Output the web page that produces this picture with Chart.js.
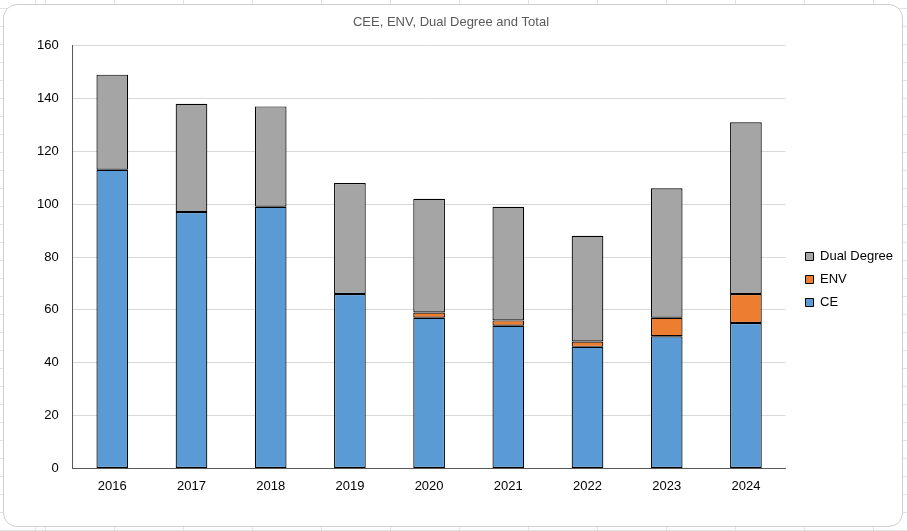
<!DOCTYPE html>
<html>
<head>
<meta charset="utf-8">
<script src="https://cdn.jsdelivr.net/npm/chart.js@4"></script>
<style>
  html, body { margin: 0; padding: 0; }
  body {
    width: 907px; height: 531px; overflow: hidden; position: relative;
    background-color: #fff;
    background-image:
      repeating-linear-gradient(to right, #e2e2e2 0 1px, transparent 1px 69px),
      repeating-linear-gradient(to bottom, #e2e2e2 0 1px, transparent 1px 18px);
    background-position: 45px 0, 0 8px;
  }
  #box {
    position: absolute; left: 3px; top: 4px; width: 898px; height: 521px;
    background: #fff; border: 1px solid #cfcfcf; border-radius: 14px;
  }
  canvas { display: block; }
</style>
</head>
<body>
<div id="box"><canvas id="barChart" width="898" height="521"></canvas></div>
<script>
// values
const years = ['2016','2017','2018','2019','2020','2021','2022','2023','2024'];
const ce = [113, 97, 99, 66, 57, 54, 46, 50, 55];
const env = [0, 0, 0, 0, 2, 2, 2, 7, 11];
const dual = [36, 41, 38, 42, 43, 43, 40, 49, 65];
const yTicks = [0, 20, 40, 60, 80, 100, 120, 140, 160];

Chart.defaults.font = { family: '"Liberation Sans", Arial, sans-serif', size: 13 };
Chart.defaults.color = '#000';

// nudge legend and title to where the spreadsheet puts them
function shiftBox(box, dx, dy) {
  if (!box || box._shifted) return;
  const orig = box.draw;
  box.draw = function (area) {
    const c = this.ctx;
    c.save(); c.translate(dx, dy); orig.call(this, area); c.restore();
  };
  box._shifted = true;
}
const boxShift = {
  id: 'boxShift',
  afterLayout(chart) {
    shiftBox(chart.legend, 10, 29);
    shiftBox(chart.titleBlock, -7, 0);
  }
};

const barCtx = document.getElementById('barChart');
new Chart(barCtx, {
  type: 'bar',
  data: {
    labels: years,
    datasets: [
      { label: 'CE', data: ce, backgroundColor: '#5b9bd5' },
      { label: 'ENV', data: env, backgroundColor: '#ed7d31' },
      { label: 'Dual Degree', data: dual, backgroundColor: '#a5a5a5' }
    ].map(d => Object.assign(d, {
      borderColor: '#000', borderSkipped: false,
      borderWidth: c => (c.raw ? 1.2 : 0),
      barPercentage: 0.4, categoryPercentage: 1
    }))
  },
  plugins: [boxShift],
  options: {
    responsive: false,
    animation: false,
    layout: { padding: { left: 19, right: 9, top: 0, bottom: 30 } },
    plugins: {
      title: { display: true, text: 'CEE, ENV, Dual Degree and Total', color: '#595959',
               font: { size: 13, weight: 'normal' }, padding: { top: 10, bottom: 15 } },
      legend: {
        display: true, position: 'right', reverse: true,
        labels: { boxWidth: 8, boxHeight: 8, padding: 10, color: '#000',
                  generateLabels(chart) {
                    return chart.data.datasets.map((d, i) => ({
                      text: d.label, fillStyle: d.backgroundColor, strokeStyle: '#000',
                      lineWidth: 1, datasetIndex: i
                    }));
                  } }
      },
      tooltip: { enabled: false }
    },
    scales: {
      x: {
        stacked: true,
        grid: { display: false },
        border: { color: '#595959', width: 1 },
        ticks: { padding: 2 }
      },
      y: {
        stacked: true, min: 0, max: 160,
        afterBuildTicks(axis) { axis.ticks = yTicks.map(v => ({ value: v })); },
        grid: { color: '#d9d9d9', drawTicks: false },
        border: { color: '#595959', width: 1 },
        ticks: { padding: 14 }
      }
    }
  }
});
</script>
</body>
</html>
